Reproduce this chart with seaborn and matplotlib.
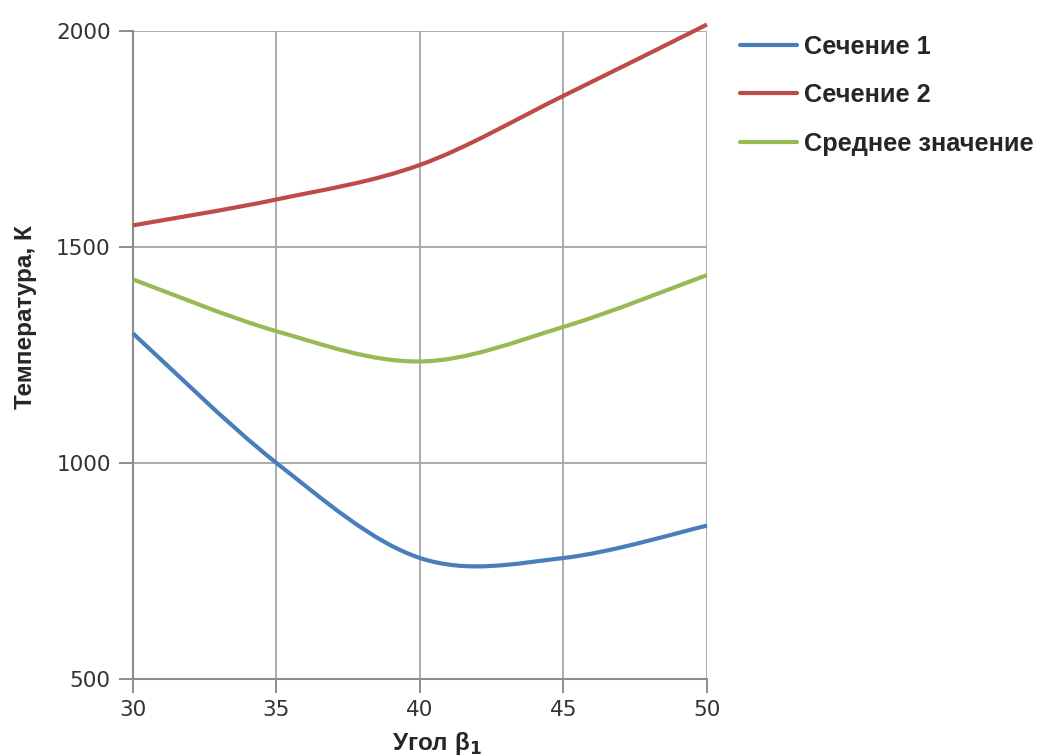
import numpy as np
import matplotlib
matplotlib.use("Agg")
import matplotlib.pyplot as plt
from matplotlib.path import Path
from matplotlib.patches import PathPatch
from matplotlib.lines import Line2D
import seaborn as sns

# Angle beta_1, degrees
angle = [30, 35, 40, 45, 50]
# Temperature, K
section_1 = [1300, 1000, 780, 780, 855]
section_2 = [1550, 1610, 1690, 1850, 2015]
mean_value = [1425, 1305, 1235, 1315, 1435]

labels = ["Сечение 1", "Сечение 2", "Среднее значение"]
colors = ["#4A7EBB", "#BE4B48", "#98B954"]

sns.set_style("white")
plt.rcParams["font.family"] = ["DejaVu Sans"]


def smooth_path(x, y):
    """Cubic Bezier path through the points (spreadsheet-style smoothed line)."""
    pts = np.column_stack([x, y]).astype(float)
    n = len(pts)
    verts = [pts[0]]
    codes = [Path.MOVETO]
    for i in range(n - 1):
        p0 = pts[i - 1] if i > 0 else pts[i]
        p1 = pts[i]
        p2 = pts[i + 1]
        p3 = pts[i + 2] if i + 2 < n else pts[i + 1]
        c1 = p1 + (p2 - p0) / 6.0
        c2 = p2 - (p3 - p1) / 6.0
        verts += [c1, c2, p2]
        codes += [Path.CURVE4] * 3
    return Path(verts, codes)


fig = plt.figure(figsize=(10.51, 7.56), dpi=100)
ax = fig.add_axes([0.1265, 0.1019, 0.5462, 0.8571])

for series, color in zip([section_1, section_2, mean_value], colors):
    patch = PathPatch(smooth_path(angle, series), facecolor="none",
                      edgecolor=color, linewidth=3.0, capstyle="butt",
                      joinstyle="round", clip_on=False, zorder=3)
    ax.add_patch(patch)

ax.set_xlim(30, 50)
ax.set_ylim(500, 2000)
ax.set_xticks([30, 35, 40, 45, 50])
ax.set_yticks([500, 1000, 1500, 2000])

ax.grid(True, color="#A6A6A6", linewidth=1.3)
ax.set_axisbelow(True)
sns.despine(ax=ax, top=True, right=True)
for side in ["left", "bottom"]:
    ax.spines[side].set_color("#8C8C8C")
    ax.spines[side].set_linewidth(1.5)

ax.tick_params(axis="both", bottom=True, left=True, direction="out",
               length=10, width=1.4, color="#8C8C8C", labelsize=15.5,
               labelcolor="#333333", pad=6)
ax.tick_params(axis="x", pad=5)

ax.set_xlabel("Угол β$_\\mathbf{1}$", fontsize=17.5, fontweight="bold",
              family="Liberation Sans")
ax.set_ylabel("Температура, К", fontsize=17.5, fontweight="bold",
              family="Liberation Sans")
ax.xaxis.set_label_coords(0.53, -0.078)
ax.yaxis.set_label_coords(-0.167, 0.558)

handles = [Line2D([0], [0], color=c, linewidth=3.0) for c in colors]
fig.legend(handles, labels, loc="upper left", bbox_to_anchor=(0.692, 0.971),
           frameon=False, borderpad=0, handlelength=2.25, handletextpad=0.25,
           labelspacing=0.97, prop={"family": "Liberation Sans",
                                    "weight": "bold", "size": 18.3})

fig.savefig("out.png", dpi=100)
